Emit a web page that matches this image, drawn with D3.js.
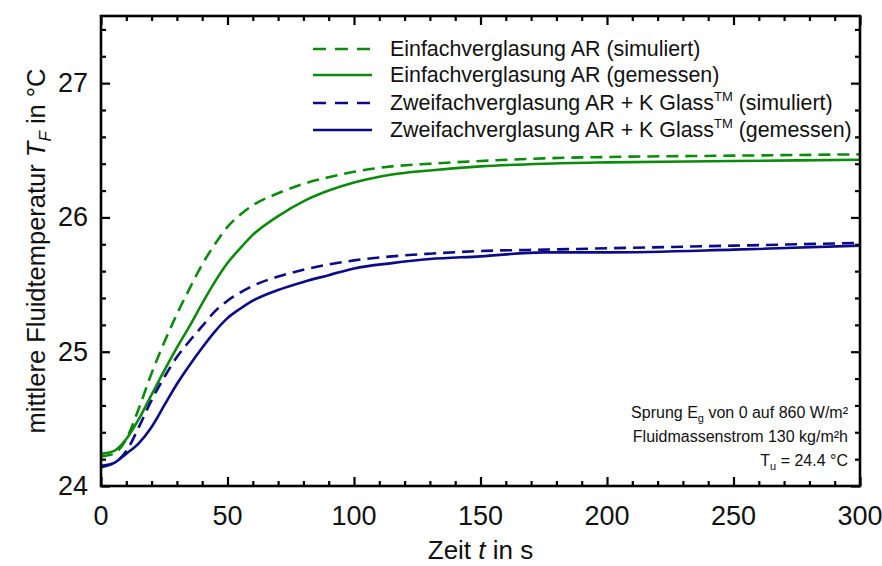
<!DOCTYPE html>
<html>
<head>
<meta charset="utf-8">
<script src="https://cdn.jsdelivr.net/npm/d3@7"></script>
<style>
  html, body { margin: 0; padding: 0; background: #fff; }
  svg { display: block; font-family: "Liberation Sans", Arial, sans-serif; }
</style>
</head>
<body>
<svg id="chart" width="882" height="566"></svg>
<script>
// ---- data ----
const timeS = [0, 5, 10, 15, 20, 25, 30, 35, 40, 45, 50, 55, 60, 70, 80, 90, 100, 115, 130, 150, 175, 200, 250, 300];
const einfachSim = [24.22, 24.24, 24.35, 24.58, 24.84, 25.07, 25.28, 25.47, 25.65, 25.80, 25.93, 26.02, 26.09, 26.18, 26.25, 26.30, 26.34, 26.38, 26.40, 26.42, 26.44, 26.45, 26.46, 26.47];
const einfachMess = [24.24, 24.26, 24.35, 24.50, 24.68, 24.86, 25.03, 25.19, 25.36, 25.52, 25.66, 25.77, 25.87, 26.01, 26.12, 26.20, 26.26, 26.32, 26.35, 26.38, 26.40, 26.41, 26.42, 26.43];
const zweifachSim = [24.15, 24.17, 24.26, 24.44, 24.64, 24.81, 24.96, 25.08, 25.19, 25.30, 25.38, 25.44, 25.49, 25.56, 25.61, 25.65, 25.68, 25.71, 25.73, 25.75, 25.76, 25.77, 25.79, 25.81];
const zweifachMess = [24.14, 24.17, 24.24, 24.32, 24.44, 24.60, 24.76, 24.90, 25.03, 25.15, 25.25, 25.32, 25.38, 25.46, 25.52, 25.57, 25.62, 25.66, 25.69, 25.71, 25.74, 25.74, 25.76, 25.79];
const xTicks = [0, 50, 100, 150, 200, 250, 300];
const yTicks = [24, 25, 26, 27];
const seriesNames = [
  "Einfachverglasung AR (simuliert)",
  "Einfachverglasung AR (gemessen)",
  "Zweifachverglasung AR + K Glass|TM| (simuliert)",
  "Zweifachverglasung AR + K Glass|TM| (gemessen)"
];
const seriesColors = ["#0b8a0b", "#0b8a0b", "#0b0b88", "#0b0b88"];
const seriesDashed = [true, false, true, false];
const seriesValues = [einfachSim, einfachMess, zweifachSim, zweifachMess];

// ---- layout ----
const svg = d3.select("#chart");
const L = 101, R = 860, T = 16, B = 486;
const x = d3.scaleLinear().domain([0, 300]).range([L, R]);
const y = d3.scaleLinear().domain([24, 27.5]).range([B, T]);

// series (drawn first, under the frame)
const line = d3.line().x(d => x(d[0])).y(d => y(d[1])).curve(d3.curveMonotoneX);
seriesValues.forEach((vals, i) => {
  svg.append("path")
    .datum(timeS.map((t, k) => [t, vals[k]]))
    .attr("d", line)
    .attr("fill", "none")
    .attr("stroke", seriesColors[i])
    .attr("stroke-width", 2.6)
    .attr("stroke-dasharray", seriesDashed[i] ? "12,7" : null);
});

// axes with inward ticks
const xMinor = d3.range(0, 301, 10).filter(v => v % 50 !== 0);
const yMinor = d3.range(24, 27.5001, 0.2).map(v => +v.toFixed(1)).filter(v => Math.abs(v - Math.round(v)) > 1e-6);
const fsTick = 27;

function styleAxis(g) {
  g.select(".domain").remove();
  g.selectAll("line").attr("stroke", "#000").attr("stroke-width", 2.2);
}
// bottom
svg.append("g").attr("transform", `translate(0,${B})`)
  .call(d3.axisTop(x).tickValues(xTicks).tickSize(9).tickFormat(""))
  .call(styleAxis);
svg.append("g").attr("transform", `translate(0,${B})`)
  .call(d3.axisTop(x).tickValues(xMinor).tickSize(5).tickFormat(""))
  .call(styleAxis);
// top
svg.append("g").attr("transform", `translate(0,${T})`)
  .call(d3.axisBottom(x).tickValues(xTicks).tickSize(9).tickFormat(""))
  .call(styleAxis);
svg.append("g").attr("transform", `translate(0,${T})`)
  .call(d3.axisBottom(x).tickValues(xMinor).tickSize(5).tickFormat(""))
  .call(styleAxis);
// left
svg.append("g").attr("transform", `translate(${L},0)`)
  .call(d3.axisRight(y).tickValues(yTicks).tickSize(9).tickFormat(""))
  .call(styleAxis);
svg.append("g").attr("transform", `translate(${L},0)`)
  .call(d3.axisRight(y).tickValues(yMinor).tickSize(5).tickFormat(""))
  .call(styleAxis);
// right
svg.append("g").attr("transform", `translate(${R},0)`)
  .call(d3.axisLeft(y).tickValues(yTicks).tickSize(9).tickFormat(""))
  .call(styleAxis);
svg.append("g").attr("transform", `translate(${R},0)`)
  .call(d3.axisLeft(y).tickValues(yMinor).tickSize(5).tickFormat(""))
  .call(styleAxis);

// frame
svg.append("rect").attr("x", L).attr("y", T).attr("width", R - L).attr("height", B - T)
  .attr("fill", "none").attr("stroke", "#000").attr("stroke-width", 2.6);

// tick labels
svg.append("g").selectAll("text").data(xTicks).join("text")
  .attr("x", d => x(d)).attr("y", 525)
  .attr("text-anchor", "middle").attr("font-size", fsTick).attr("fill", "#111")
  .text(d => d);
svg.append("g").selectAll("text").data(yTicks).join("text")
  .attr("x", 88).attr("y", d => y(d) + 9)
  .attr("text-anchor", "end").attr("font-size", fsTick).attr("fill", "#111")
  .text(d => d);

// axis titles
const xt = svg.append("text").attr("x", (L + R) / 2).attr("y", 559)
  .attr("text-anchor", "middle").attr("font-size", 26).attr("fill", "#111");
xt.append("tspan").text("Zeit ");
xt.append("tspan").attr("font-style", "italic").text("t");
xt.append("tspan").text(" in s");

const yt = svg.append("text")
  .attr("transform", `translate(45,${(T + B) / 2}) rotate(-90)`)
  .attr("text-anchor", "middle").attr("font-size", 25.5).attr("fill", "#111");
yt.append("tspan").text("mittlere Fluidtemperatur ");
yt.append("tspan").attr("font-style", "italic").text("T");
yt.append("tspan").attr("font-style", "italic").attr("font-size", 17).attr("dy", 6).text("F");
yt.append("tspan").attr("dy", -6).text(" in °C");

// legend
const legY = [49, 75, 103, 130];
seriesNames.forEach((name, i) => {
  svg.append("line")
    .attr("x1", 313).attr("x2", 372).attr("y1", legY[i]).attr("y2", legY[i])
    .attr("stroke", seriesColors[i]).attr("stroke-width", 2.6)
    .attr("stroke-dasharray", seriesDashed[i] ? "13,9" : null);
  const t = svg.append("text").attr("x", 390).attr("y", legY[i] + 7)
    .attr("font-size", 21.4).attr("fill", "#111");
  const parts = name.split("|");
  parts.forEach((p, k) => {
    if (k === 1) {
      t.append("tspan").attr("font-size", 13).attr("dy", -9).text(p);
    } else if (k === 2) {
      t.append("tspan").attr("dy", 9).text(p);
    } else {
      t.append("tspan").text(p);
    }
  });
});

// annotation
const ann = svg.append("g").attr("font-size", 16).attr("fill", "#111").attr("text-anchor", "end");
const a1 = ann.append("text").attr("x", 848).attr("y", 418);
a1.append("tspan").text("Sprung E");
a1.append("tspan").attr("font-size", 11).attr("dy", 4).text("g");
a1.append("tspan").attr("dy", -4).text(" von 0 auf 860 W/m²");
ann.append("text").attr("x", 848).attr("y", 442).text("Fluidmassenstrom 130 kg/m²h");
const a3 = ann.append("text").attr("x", 848).attr("y", 466);
a3.append("tspan").text("T");
a3.append("tspan").attr("font-size", 11).attr("dy", 4).text("u");
a3.append("tspan").attr("dy", -4).text(" = 24.4 °C");
</script>
</body>
</html>
